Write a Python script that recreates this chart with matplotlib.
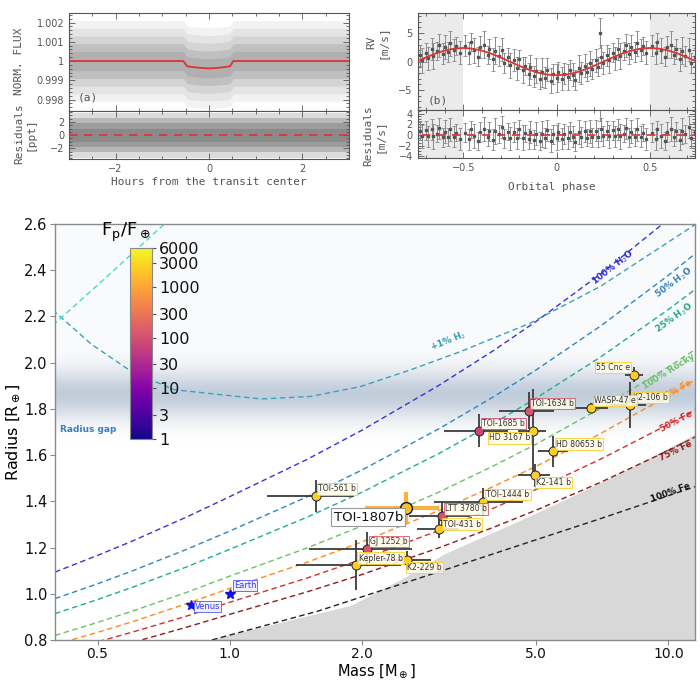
import numpy as np
import matplotlib
matplotlib.use('Agg')
import matplotlib.pyplot as plt
from matplotlib.colors import LogNorm, LinearSegmentedColormap
from matplotlib.cm import ScalarMappable

# ---------------------------------------------------------------- data
# (a) transit light curve model (hours, normalised flux)
lc_time = [-3.0, -0.55, -0.47, -0.40, -0.25, -0.10, 0.0, 0.10, 0.25, 0.38, 0.45, 0.52, 3.0]
lc_flux = [1.0, 1.0, 0.99973, 0.99970, 0.99966, 0.99963, 0.99962, 0.99963, 0.99966, 0.99970, 0.99973, 1.0, 1.0]
lc_xticks = [-2, 0, 2]
lc_yticks = [0.998, 0.999, 1.0, 1.001, 1.002]
lc_yticklabels = ['0.998', '0.999', '1', '1.001', '1.002']
lc_res_yticks = [-2, 0, 2]

# (b) radial velocities (orbital phase, m/s)
rv_phase = [-0.49, -0.47, -0.46, -0.44, -0.42, -0.41, -0.39, -0.37, -0.36, -0.34, -0.33, -0.31,
            -0.29, -0.28, -0.26, -0.25, -0.23, -0.21, -0.20, -0.18, -0.17, -0.15, -0.14, -0.12,
            -0.11, -0.09, -0.08, -0.06, -0.05, -0.03, -0.02, 0.00, 0.01, 0.03, 0.04, 0.06,
            0.07, 0.09, 0.10, 0.12, 0.13, 0.15, 0.16, 0.18, 0.19, 0.21, 0.22, 0.23, 0.24,
            0.25, 0.27, 0.28, 0.30, 0.31, 0.33, 0.34, 0.36, 0.37, 0.39, 0.40, 0.42, 0.43,
            0.45, 0.46, 0.48]
rv_value = [2.8, 1.5, 3.4, 2.0, 0.9, 2.6, 3.0, 1.2, 2.2, 0.4, 1.9, 1.0,
            2.1, -0.2, 0.8, -0.6, 0.3, -1.2, 0.4, -1.5, -0.8, -2.2, -0.9, -2.6,
            -1.6, -3.1, -1.9, -2.8, -1.4, -3.4, -2.2, -2.9, -1.8, -3.0, -2.1, -2.7,
            -1.5, -2.3, -3.2, -1.2, -2.0, -0.7, -1.8, -0.3, -1.3, 0.2, -0.9, 5.0, 0.9,
            -0.2, 1.1, 0.2, 1.6, 0.6, 2.2, 1.0, 1.8, 2.9, 1.4, 2.6, 1.7, 3.2,
            2.0, 2.7, 1.6]
rv_error = [1.8, 2.0, 1.6, 2.2, 1.7, 1.9, 2.3, 1.6, 1.8, 2.0, 2.4, 1.7,
            2.0, 1.8, 1.6, 2.2, 1.9, 2.0, 1.7, 2.3, 1.6, 1.9, 2.1, 1.8,
            2.2, 1.7, 2.5, 1.9, 2.0, 2.2, 1.8, 2.4, 1.7, 2.0, 1.9, 2.2,
            1.8, 2.0, 1.7, 2.3, 1.9, 2.0, 1.6, 2.2, 1.8, 2.0, 1.7, 2.6, 2.1,
            1.9, 1.8, 2.2, 1.7, 2.0, 1.9, 2.3, 1.6, 2.0, 1.8, 2.1, 1.7, 2.2,
            1.9, 1.6, 2.0]
rv_model_phase = [-0.75, -0.70, -0.65, -0.60, -0.55, -0.50, -0.45, -0.40, -0.35, -0.30, -0.25,
                  -0.20, -0.15, -0.10, -0.05, 0.00, 0.05, 0.10, 0.15, 0.20, 0.25, 0.30,
                  0.35, 0.40, 0.45, 0.50, 0.55, 0.60, 0.65, 0.70, 0.75]
rv_model_value = [0.00, 0.74, 1.41, 1.94, 2.28, 2.40, 2.28, 1.94, 1.41, 0.74, 0.00,
                  -0.74, -1.41, -1.94, -2.28, -2.40, -2.28, -1.94, -1.41, -0.74, 0.00, 0.74,
                  1.41, 1.94, 2.28, 2.40, 2.28, 1.94, 1.41, 0.74, 0.00]
rv_xticks = [-0.5, 0, 0.5]
rv_yticks = [-5, 0, 5]
rv_res_yticks = [-4, -2, 0, 2, 4]

# (c) mass-radius diagram: composition curves (M in Earth masses, R in Earth radii)
curve_mass = [0.4, 0.5, 0.6, 0.8, 1.0, 1.5, 2, 3, 4, 5, 7, 10, 12]
r_h2o_100 = [1.094, 1.166, 1.228, 1.333, 1.420, 1.581, 1.707, 1.902, 2.053, 2.179, 2.383, 2.620, 2.750]
r_h2o_50 = [0.979, 1.043, 1.099, 1.193, 1.271, 1.419, 1.535, 1.714, 1.853, 1.969, 2.158, 2.378, 2.499]
r_h2o_25 = [0.914, 0.975, 1.028, 1.117, 1.192, 1.331, 1.439, 1.607, 1.738, 1.847, 2.024, 2.230, 2.343]
r_rocky = [0.820, 0.876, 0.925, 1.007, 1.076, 1.198, 1.293, 1.440, 1.554, 1.648, 1.802, 1.981, 2.079]
r_fe_25 = [0.780, 0.833, 0.879, 0.958, 1.023, 1.136, 1.224, 1.360, 1.465, 1.552, 1.693, 1.857, 1.947]
r_fe_50 = [0.744, 0.792, 0.834, 0.904, 0.963, 1.068, 1.149, 1.274, 1.371, 1.452, 1.582, 1.733, 1.815]
r_fe_75 = [0.704, 0.750, 0.789, 0.856, 0.911, 1.008, 1.083, 1.199, 1.288, 1.362, 1.482, 1.620, 1.696]
fe100_mass = [0.5, 0.91, 1.59, 3.02, 5.0, 7.0, 12.0]
fe100_radius = [0.69, 0.80, 0.925, 1.097, 1.234, 1.325, 1.475]
h2_mass = [0.38, 0.403, 0.484, 0.597, 0.748, 1.179, 1.532, 1.99, 2.585, 3.36, 4.84, 7.0, 12.0]
h2_radius = [2.25, 2.214, 2.08, 1.962, 1.883, 1.843, 1.854, 1.897, 1.969, 2.048, 2.171, 2.33, 2.62]
steep_mass = [0.38, 0.40, 0.538, 0.71, 0.75]
steep_radius = [2.14, 2.17, 2.39, 2.60, 2.65]
strip_mass = [0.85, 0.89, 1.33, 1.89, 2.5, 3.1, 4.5, 6.0, 8.5, 12.0]
strip_radius = [0.79, 0.80, 0.88, 0.95, 1.07, 1.175, 1.31, 1.42, 1.56, 1.71]

# known planets
planet_name = ['55 Cnc e', 'K2-106 b', 'WASP-47 e', 'TOI-1634 b', 'HD 3167 b', 'TOI-1685 b',
               'HD 80653 b', 'K2-141 b', 'TOI-1444 b', 'LTT 3780 b', 'TOI-431 b', 'TOI-561 b',
               'GJ 1252 b', 'Kepler-78 b', 'K2-229 b']
planet_mass = [8.37, 8.18, 6.67, 4.80, 4.91, 3.70, 5.47, 4.96, 3.79, 3.05, 3.00, 1.57, 2.06, 1.94, 2.54]
planet_mass_err = [0.39, 0.73, 0.63, 0.68, 0.36, 0.62, 0.43, 0.42, 0.87, 0.48, 0.33, 0.35, 0.54, 0.52, 0.33]
planet_radius = [1.948, 1.818, 1.806, 1.792, 1.706, 1.706, 1.616, 1.513, 1.398, 1.336, 1.282, 1.422,
                 1.195, 1.123, 1.144]
planet_radius_err = [0.033, 0.10, 0.02, 0.08, 0.18, 0.07, 0.066, 0.05, 0.06, 0.06, 0.04, 0.07,
                     0.073, 0.108, 0.043]
planet_flux = [2500, 2500, 2500, 120, 2500, 70, 2500, 2500, 2500, 105, 2500, 2500, 120, 2500, 2500]

# TOI-1807 b
toi_name = 'TOI-1807b'
toi_mass, toi_mass_err = 2.52, 0.48
toi_radius, toi_radius_err = 1.372, 0.07
toi_flux = 1900

# solar system
ss_name = ['Earth', 'Venus']
ss_mass = [1.0, 0.815]
ss_radius = [1.0, 0.95]

cbar_ticks = [1, 3, 10, 30, 100, 300, 1000, 3000, 6000]
mass_ticks = [0.5, 1.0, 2.0, 5.0, 10.0]
radius_ticks = [0.8, 1.0, 1.2, 1.4, 1.6, 1.8, 2.0, 2.2, 2.4, 2.6]

# ---------------------------------------------------------------- figure
W, H = 700, 680
fig = plt.figure(figsize=(7.0, 6.8), dpi=100)


def fx(x):
    return x / W


def fy(y):
    return 1 - y / H


def rect(x0, y0, x1, y1):
    return [fx(x0), fy(y1), (x1 - x0) / W, (y1 - y0) / H]


TXT = '#555555'


def style_top(ax):
    ax.minorticks_on()
    ax.tick_params(which='both', direction='in', top=True, right=True,
                   colors=TXT, labelsize=7, width=0.6)
    ax.tick_params(which='major', length=4)
    ax.tick_params(which='minor', length=2)
    for s in ax.spines.values():
        s.set_color('#555555')
        s.set_linewidth(0.8)


mono = 'DejaVu Sans Mono'

# ---- panel (a)
axa = fig.add_axes(rect(69, 12.7, 349, 110.7))
axar = fig.add_axes(rect(69, 110.7, 349, 159))
lt = np.asarray(lc_time)
lf = np.asarray(lc_flux)
for half, col in [(0.0021, '#f2f2f2'), (0.0017, '#e4e4e4'), (0.0013, '#d4d4d4'),
                  (0.0009, '#c0c0c0'), (0.0005, '#b0b0b0')]:
    axa.fill_between(lt, lf - half, lf + half, color=col, lw=0, zorder=1)
axa.plot(lt, lf, color='#dd3333', lw=1.3, zorder=3)
axa.set_xlim(-3, 3)
axa.set_ylim(0.99742, 1.00251)
axa.set_xticks(lc_xticks)
axa.set_xticklabels([])
axa.set_yticks(lc_yticks)
axa.set_yticklabels(lc_yticklabels)
style_top(axa)
axa.text(-2.82, 0.99808, '(a)', fontsize=8, color=TXT, family=mono, va='center')

for half, col in [(3.4, '#dcdcdc'), (2.6, '#b8b8b8'), (1.8, '#9c9c9c'), (1.0, '#8a8a8a')]:
    axar.fill_between([-3, 3], [-half, -half], [half, half], color=col, lw=0, zorder=1)
axar.plot([-3, 3], [0, 0], color='#dd3333', lw=1.2, ls=(0, (5, 4)), zorder=3)
axar.set_xlim(-3, 3)
axar.set_ylim(-3.6, 3.7)
axar.set_xticks(lc_xticks)
axar.set_yticks(lc_res_yticks)
style_top(axar)

fig.text(fx(19), fy(61), 'NORM. FLUX', rotation=90, ha='center', va='center',
         fontsize=8, color=TXT, family=mono)
fig.text(fx(25), fy(134), 'Residuals\n[ppt]', rotation=90, ha='center', va='center',
         fontsize=8, color=TXT, family=mono, multialignment='center', linespacing=1.1)
fig.text(fx(209), fy(182), 'Hours from the transit center', ha='center', va='center',
         fontsize=8, color=TXT, family=mono)

# ---- panel (b)
axb = fig.add_axes(rect(417.7, 12.7, 695, 110))
axbr = fig.add_axes(rect(417.7, 110, 695, 158.3))
ph0 = np.asarray(rv_phase)
rv = np.asarray(rv_value)
er = np.asarray(rv_error)
res = rv - np.interp(ph0, rv_model_phase, rv_model_value)
for ax in (axb, axbr):
    ax.axvspan(-1, -0.5, color='#ebebeb', lw=0, zorder=0)
    ax.axvspan(0.5, 1, color='#ebebeb', lw=0, zorder=0)
for shift in (-1.0, 0.0, 1.0):
    ph = ph0 + shift
    m = (ph > -0.76) & (ph < 0.76)
    axb.errorbar(ph[m], rv[m], yerr=er[m], fmt='s', ms=1.6, color='#555555',
                 ecolor='#8a8a8a', elinewidth=0.7, capsize=1.3, capthick=0.6, zorder=2)
    axbr.errorbar(ph[m], res[m], yerr=er[m], fmt='s', ms=1.6, color='#555555',
                  ecolor='#8a8a8a', elinewidth=0.7, capsize=1.3, capthick=0.6, zorder=2)
axb.plot(rv_model_phase, rv_model_value, color='#dd3333', lw=1.3, zorder=3)
axbr.plot([-0.8, 0.8], [0, 0], color='#dd3333', lw=1.2, ls=(0, (5, 4)), zorder=3)
axb.set_xlim(-0.744, 0.741)
axb.set_ylim(-8.5, 8.6)
axb.set_xticks(rv_xticks)
axb.set_xticklabels([])
axb.set_yticks(rv_yticks)
style_top(axb)
axb.text(-0.69, -6.9, '(b)', fontsize=8, color=TXT, family=mono, va='center')
axbr.set_xlim(-0.744, 0.741)
axbr.set_ylim(-4.37, 4.7)
axbr.set_xticks(rv_xticks)
axbr.set_xticklabels(['\u22120.5', '0', '0.5'])
axbr.set_yticks(rv_res_yticks)
style_top(axbr)
fig.text(fx(377), fy(42), 'RV\n[m/s]', rotation=90, ha='center', va='center',
         fontsize=8, color=TXT, family=mono, multialignment='center', linespacing=1.1)
fig.text(fx(374), fy(136), 'Residuals\n[m/s]', rotation=90, ha='center', va='center',
         fontsize=8, color=TXT, family=mono, multialignment='center', linespacing=1.1)
fig.text(fx(552), fy(187), 'Orbital phase', ha='center', va='center',
         fontsize=8, color=TXT, family=mono)

# ---- panel (c): mass-radius diagram
ax = fig.add_axes(rect(55, 224, 695, 640))
ax.set_xscale('log')
XMIN, XMAX = 0.40, 11.5
ax.set_xlim(XMIN, XMAX)
ax.set_ylim(0.8, 2.6)

# radius-gap shading
rg = np.linspace(0.8, 2.6, 361)
rc = 0.5 * (rg[1:] + rg[:-1])
prof = np.exp(-0.5 * ((rc - 1.862) / 0.075) ** 2) + 0.10 * np.clip((rc - 1.86) / 0.25, 0, 1)
gap_cmap = LinearSegmentedColormap.from_list('gap', ['#ffffff', '#c2cddb'])
ax.pcolormesh([XMIN, XMAX], rg, prof[:, None], cmap=gap_cmap, vmin=0, vmax=1,
              shading='flat', zorder=0, rasterized=True)

# forbidden region (max. collisional stripping)
ax.fill_between(strip_mass, strip_radius, 0.6, color='#d8d8d8', lw=0, zorder=1)

curves = [
    (r_h2o_100, '#3b33d4'),
    (r_h2o_50, '#2f86c4'),
    (r_h2o_25, '#1fae95'),
    (r_rocky, '#6cc06c'),
    (r_fe_25, '#ff8a1c'),
    (r_fe_50, '#d23030'),
    (r_fe_75, '#8c1c1c'),
]
for rr, col in curves:
    ax.plot(curve_mass, rr, ls=(0, (4, 2.5)), lw=1.0, color=col, zorder=2)
ax.plot(fe100_mass, fe100_radius, ls=(0, (4, 2.5)), lw=1.0, color='#222222', zorder=2)
ax.plot(h2_mass, h2_radius, ls=(0, (4, 2.5)), lw=1.0, color='#3aa2ba', zorder=2)
ax.plot(steep_mass, steep_radius, ls=(0, (4, 2.5)), lw=1.0, color='#48dcc0', zorder=2)

curve_labels = [
    ('100% H$_2$O', 7.50, 2.41, 38, '#2b2bd6'),
    ('50% H$_2$O', 10.3, 2.345, 37, '#2f7fc0'),
    ('25% H$_2$O', 10.3, 2.194, 36, '#1fa58c'),
    ('100% Rocky', 10.0, 1.961, 32, '#6cc06c'),
    ('25% Fe', 10.4, 1.876, 30, '#ff8a1c'),
    ('50% Fe', 10.4, 1.746, 28, '#d23030'),
    ('75% Fe', 10.4, 1.616, 26, '#8c1c1c'),
    ('100% Fe', 10.1, 1.438, 20, '#111111'),
    ('+1% H$_2$', 3.15, 2.092, 22, '#2a9db5'),
]
for txt, mx, ry, rot, col in curve_labels:
    ax.text(mx, ry, txt, rotation=rot, color=col, fontsize=6.3, fontweight='bold',
            ha='center', va='center', rotation_mode='anchor', zorder=3)
ax.text(0.41, 1.71, 'Radius gap', color='#3b7fc0', fontsize=6.5, fontweight='bold',
        ha='left', va='center', zorder=3)

cmap = plt.get_cmap('plasma')
norm = LogNorm(vmin=1, vmax=6000)

# planets
label_place = {
    '55 Cnc e': (-3, 2, 'right', 'bottom'),
    'K2-106 b': (2, 2, 'left', 'bottom'),
    'WASP-47 e': (2, 2, 'left', 'bottom'),
    'TOI-1634 b': (2, 2, 'left', 'bottom'),
    'HD 3167 b': (-2, -2, 'right', 'top'),
    'TOI-1685 b': (2, 2, 'left', 'bottom'),
    'HD 80653 b': (2, 2, 'left', 'bottom'),
    'K2-141 b': (1, -2, 'left', 'top'),
    'TOI-1444 b': (2, 2, 'left', 'bottom'),
    'LTT 3780 b': (2, 2, 'left', 'bottom'),
    'TOI-431 b': (3, 0, 'left', 'bottom'),
    'TOI-561 b': (2, 2, 'left', 'bottom'),
    'GJ 1252 b': (2, 2, 'left', 'bottom'),
    'Kepler-78 b': (2, 2, 'left', 'bottom'),
    'K2-229 b': (0, -2, 'left', 'top'),
}
for name, m, me, r, re, f in zip(planet_name, planet_mass, planet_mass_err,
                                  planet_radius, planet_radius_err, planet_flux):
    col = cmap(norm(f))
    ax.errorbar([m], [r], xerr=[me], yerr=[re], fmt='none', ecolor='#3c3c3c',
                elinewidth=1.3, capsize=0, zorder=4)
    ax.plot([m], [r], 'o', ms=6.5, color=col, mec='#222222', mew=0.7, zorder=5)
    dx, dy, ha, va = label_place[name]
    ax.annotate(name, (m, r), xytext=(dx, dy), textcoords='offset points',
                ha=ha, va=va, fontsize=5.6, color='#333333', zorder=6,
                bbox=dict(boxstyle='square,pad=0.15', fc='#fffbe8', ec=col,
                          lw=0.7, alpha=0.85))

# TOI-1807 b
tcol = cmap(norm(toi_flux))
ax.errorbar([toi_mass], [toi_radius], xerr=[toi_mass_err], yerr=[toi_radius_err], fmt='none',
            ecolor='#f5a623', elinewidth=3, alpha=0.85, capsize=0, zorder=6)
ax.plot([toi_mass], [toi_radius], 'o', ms=8.5, color=tcol, mec='#111111', mew=1.0, zorder=7)
ax.annotate(toi_name, (toi_mass, toi_radius), xytext=(-2, -2), textcoords='offset points',
            ha='right', va='top', fontsize=9.5, color='#111111', zorder=7,
            bbox=dict(boxstyle='square,pad=0.18', fc='white', ec='#999999', lw=0.8))

# Earth & Venus
ax.plot(ss_mass, ss_radius, '*', ms=7, color='#1010ee', zorder=5, lw=0)
for name, m, r, off in zip(ss_name, ss_mass, ss_radius, [(3, 3), (3, -1)]):
    ax.annotate(name, (m, r), xytext=off, textcoords='offset points',
                ha='left', va='bottom' if name == 'Earth' else 'center',
                fontsize=6, color='#3a3aee', zorder=6,
                bbox=dict(boxstyle='square,pad=0.12', fc='#eef0ff', ec='#6a6aff', lw=0.7))

ax.set_xticks(mass_ticks)
ax.set_xticklabels(['%.1f' % v for v in mass_ticks])
ax.xaxis.set_minor_locator(matplotlib.ticker.NullLocator())
ax.set_yticks(radius_ticks)
ax.set_yticklabels(['%.1f' % v for v in radius_ticks])
ax.tick_params(labelsize=10.5, length=3.5, width=0.8, pad=2,
               colors='#888888', labelcolor='#111111')
ax.tick_params(axis='x', labelsize=10, pad=1.5)
for s in ax.spines.values():
    s.set_color('#8a8a8a')
    s.set_linewidth(1.0)
fig.text(fx(377), fy(675), 'Mass [M$_\\oplus$]', ha='center', va='baseline', fontsize=10.5)
ax.set_ylabel('Radius [R$_\\oplus$]', fontsize=11.5, labelpad=1)

# colour bar (stellar irradiation)
cax = fig.add_axes(rect(130, 248, 152, 439))
sm = ScalarMappable(norm=norm, cmap=cmap)
cb = fig.colorbar(sm, cax=cax)
cb.set_ticks(cbar_ticks)
cb.set_ticklabels([str(t) for t in cbar_ticks])
cb.ax.minorticks_off()
cb.ax.tick_params(labelsize=11.5, length=3, pad=2, colors='#555555', labelcolor='#111111')
cb.outline.set_edgecolor('#888888')
cb.outline.set_linewidth(0.8)
fig.text(fx(126), fy(232), 'F$_{\\rm p}$/F$_\\oplus$', ha='center', va='center', fontsize=13)

fig.savefig('out.png', dpi=100)
